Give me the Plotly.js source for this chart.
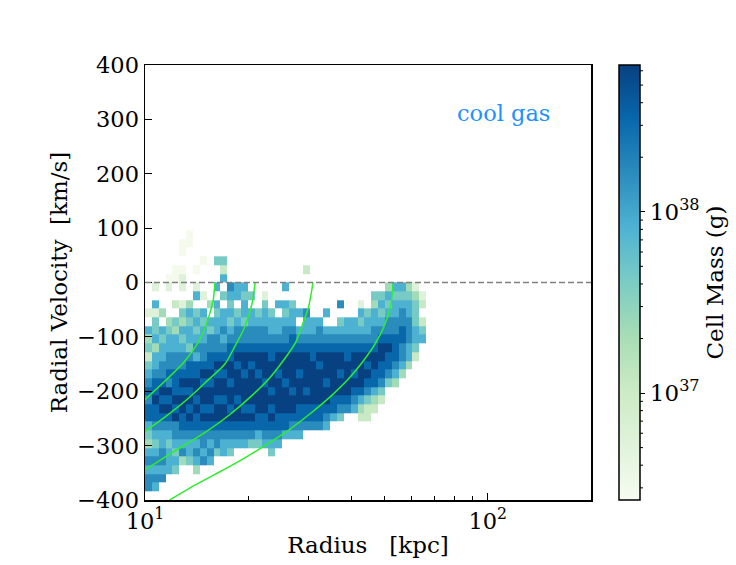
<!DOCTYPE html>
<html><head><meta charset="utf-8">
<script src="https://cdn.plot.ly/plotly-3.0.1.min.js"></script>
<style>html,body{margin:0;padding:0;background:#fff;} #chart{width:736px;height:565px;}</style>
</head><body><div id="chart"></div>
<script>
// ---- 2D histogram (coarse bins) ----
// radius bins: log10(r) from 1.00 in steps of 0.02 dex (41 columns)
const logRadiusStart = 1.0;
const logRadiusStep = 0.02;
// velocity bins: rows from +96 km/s downward in 16 km/s steps (31 rows, row 0 = top)
const velocityTop = 96;
const velocityStep = 16;
const velocityRows = 31;
// colour level (1..9) -> log10 cell mass [g]
const levelLogMass = [null, 36.45, 36.75, 37.05, 37.35, 37.63, 37.92, 38.22, 38.52, 38.80];
// main body of each radius column: first occupied row, then levels downward ('.' = empty)
const bodyStartRow = [11,10,9,10,8,8,8,9,9,10,8,9,8,6,6,9,8,8,8,8,8,8,9,9,9,10,9,10,8,10,9,8,8,7,7,6,6,6,6,6,7];
const bodyLevels = [
  "6453567878865467677",
  "55646678898876567676",
  "4.656677898987667767",
  "456677879898765666",
  "3.546677888989776565",
  "2546567789899887674",
  "4656657889898987665",
  "5656768899898876764",
  "656677898998987767",
  "65778898998987676",
  "656677898998998775",
  "66767898998998766",
  "565678899899898765",
  "66.5677898999899876",
  "6566577899899989876",
  "6677898999989875",
  ".5677899899998865",
  "56677899989998876",
  ".56678899989898765",
  "6.667899899998876",
  "6567789998999886",
  "5667889999899876",
  "6.6789989998876",
  "76678999989887",
  ".6678899999887",
  "6778989999887",
  "6.678999899876",
  ".67899999886",
  "7.567899899875",
  "66788999987",
  ".66789989876",
  "26567899998643",
  ".5667898987533",
  "54667789988643",
  "5656789988753",
  "465677898875",
  "656677888764",
  "65677887764",
  "4566777664",
  "245556653",
  "23.356"
];
// scattered isolated cells: [column, row, level]
const outlierCells = [
  [0,9,2],[1,6,2],[1,8,6],[1,9,2],[3,6,2],[3,5,1],[4,4,1],[4,5,1],[5,1,1],[5,2,1],[5,4,1],[5,5,2],[5,6,2],
  [6,0,1],[6,1,1],[7,4,1],[7,6,2],[7,7,6],[8,3,1],[8,7,2],[9,8,4],[10,3,5],[10,6,6],[11,3,5],[11,4,3],
  [11,5,6],[11,7,5],[12,6,7],[12,7,6],[15,7,5],[17,7,2],[20,6,6],[23,4,3]
];

// ---- green trajectories (radius kpc, radial velocity km/s) ----
const curveA_r = [10, 11.4, 13.0, 14.3, 15.0, 15.5, 15.8, 16.0];
const curveA_v = [-215, -182, -146, -110, -82, -54, -34, 0];
const curveB_r = [10, 11.4, 13.1, 15.0, 17.1, 18.3, 19.6, 20.5, 20.95];
const curveB_v = [-274, -248, -218, -184, -150, -117, -80, -40, 0];
const curveC_r = [10, 12, 14.7, 17.5, 20.5, 23, 25.3, 27.5, 28.7, 30.0, 30.9];
const curveC_v = [-345, -313, -279, -245, -208, -177, -144, -110, -80, -45, 0];
const curveD_r = [11.8, 13.5, 16, 19, 22.5, 26.3, 30.5, 35, 39, 43, 47, 50, 52, 53];
const curveD_v = [-400, -378, -353, -327, -299, -271, -240, -208, -179, -147, -112, -78, -45, 0];

// ---- ticks ----
const xTickVals = [10, 100];
const xTickText = ['10<sup>1</sup>', '10<sup>2</sup>'];
const xMinorVals = [20, 30, 40, 50, 60, 70, 80, 90];
const yTickVals = [-400, -300, -200, -100, 0, 100, 200, 300, 400];
const cbMajor = [37, 38];
const cbMajorText = ['10<sup>37</sup>', '10<sup>38</sup>'];
const cbMinorMantissas = [2, 3, 4, 5, 6, 7, 8, 9];
const zeroVelocity = 0;

// ---- build the heatmap matrix ----
const nCols = bodyLevels.length;
const xEdges = [];
for (let i = 0; i <= nCols; i++) xEdges.push(Math.pow(10, logRadiusStart + logRadiusStep * i));
const yEdges = [];
for (let j = 0; j <= velocityRows; j++) yEdges.push(velocityTop - velocityStep * velocityRows + velocityStep * j);
const z = [];
for (let j = 0; j < velocityRows; j++) { const row = []; for (let i = 0; i < nCols; i++) row.push(null); z.push(row); }
function setCell(col, k, ch) {
  if (ch === '.' || ch === undefined) return;
  const lvl = parseInt(ch, 10);
  const j = velocityRows - 1 - k;
  if (j >= 0 && j < velocityRows) z[j][col] = levelLogMass[lvl];
}
for (let i = 0; i < nCols; i++) {
  const s = bodyLevels[i];
  for (let t = 0; t < s.length; t++) setCell(i, bodyStartRow[i] + t, s[t]);
}
outlierCells.forEach(c => setCell(c[0], c[1], String(c[2])));

const gnbu = [[0,'#f7fcf0'],[0.125,'#e0f3db'],[0.25,'#ccebc5'],[0.375,'#a8ddb5'],[0.5,'#7bccc4'],
              [0.625,'#4eb3d3'],[0.75,'#2b8cbe'],[0.875,'#0868ac'],[1,'#084081']];
const zMin = 36.41, zMax = 38.81;

// plot geometry (pixels), used to place the colorbar minor ticks
const W = 736, H = 565, mL = 145, mR = 145, mT = 65, mB = 65;
const plotW = W - mL - mR;
const cbX = 1.0628, cbThick = 21;
const cbRightPaper = cbX + cbThick / plotW;
const minorShapes = [];
for (let d = 36; d <= 38; d++) {
  cbMinorMantissas.forEach(m => {
    const v = d + Math.log10(m);
    if (v <= zMin || v >= zMax) return;
    const yp = (v - zMin) / (zMax - zMin);
    minorShapes.push({type:'line', xref:'paper', yref:'paper', x0:cbRightPaper, x1:cbRightPaper + 3 / plotW,
      y0:yp, y1:yp, line:{color:'black', width:1}});
  });
}

const FONT = '"DejaVu Serif", serif';
const green = 'rgb(45,238,45)';
function curve(r, v) {
  return {type:'scatter', mode:'lines', x:r, y:v, line:{color:green, width:1.5, shape:'spline', smoothing:0.8},
          hoverinfo:'skip', showlegend:false};
}

const data = [
  {type:'heatmap', x:xEdges, y:yEdges, z:z, colorscale:gnbu, zmin:zMin, zmax:zMax, hoverinfo:'skip',
   colorbar:{x:cbX, xanchor:'left', xpad:0, y:0, yanchor:'bottom', ypad:0, len:1, lenmode:'fraction',
     thickness:cbThick, thicknessmode:'pixels', outlinecolor:'black', outlinewidth:1.5,
     tickmode:'array', tickvals:cbMajor, ticktext:cbMajorText, ticks:'outside', ticklen:5, tickwidth:1, tickcolor:'black',
     tickfont:{family:FONT, size:23, color:'black'},
     title:{text:'Cell Mass (g)', side:'right', font:{family:FONT, size:23, color:'black'}}}},
  curve(curveA_r, curveA_v),
  curve(curveB_r, curveB_v),
  curve(curveC_r, curveC_v),
  curve(curveD_r, curveD_v)
];

const layout = {
  width:W, height:H,
  margin:{l:mL, r:mR, t:mT, b:mB, autoexpand:false},
  paper_bgcolor:'white', plot_bgcolor:'white',
  font:{family:FONT, color:'black', size:22},
  showlegend:false,
  xaxis:{type:'log', range:[1, Math.log10(200)], tickmode:'array', tickvals:xTickVals, ticktext:xTickText,
    ticks:'inside', ticklen:7, tickwidth:1.2, tickcolor:'black',
    minor:{tickmode:'array', tickvals:xMinorVals, ticks:'inside', ticklen:4, tickwidth:1, tickcolor:'black', showgrid:false},
    showline:true, mirror:true, linecolor:'black', linewidth:1.5, showgrid:false, zeroline:false, automargin:false,
    tickfont:{family:FONT, size:22.5, color:'black'},
    title:{text:'Radius\u00a0\u00a0\u00a0[kpc]', font:{family:FONT, size:23, color:'black'}, standoff:4}},
  yaxis:{range:[-400, 400], tickmode:'array', tickvals:yTickVals,
    ticks:'inside', ticklen:7, tickwidth:1.2, tickcolor:'black',
    showline:true, mirror:true, linecolor:'black', linewidth:1.5, showgrid:false, zeroline:false, automargin:false,
    tickfont:{family:FONT, size:22.5, color:'black'},
    title:{text:'Radial Velocity\u00a0\u00a0[km/s]', font:{family:FONT, size:23, color:'black'}, standoff:3}},
  shapes:[{type:'line', xref:'paper', x0:0, x1:1, yref:'y', y0:zeroVelocity, y1:zeroVelocity,
    line:{color:'rgb(128,128,128)', width:1.3, dash:'6px,3px'}}].concat(minorShapes),
  annotations:[{xref:'paper', yref:'paper', x:0.803, y:0.89, xanchor:'center', yanchor:'middle', showarrow:false,
    text:'cool gas', font:{family:FONT, size:22.5, color:'rgb(30,144,255)'}}]
};

Plotly.newPlot('chart', data, layout, {displayModeBar:false, staticPlot:true});
</script></body></html>
